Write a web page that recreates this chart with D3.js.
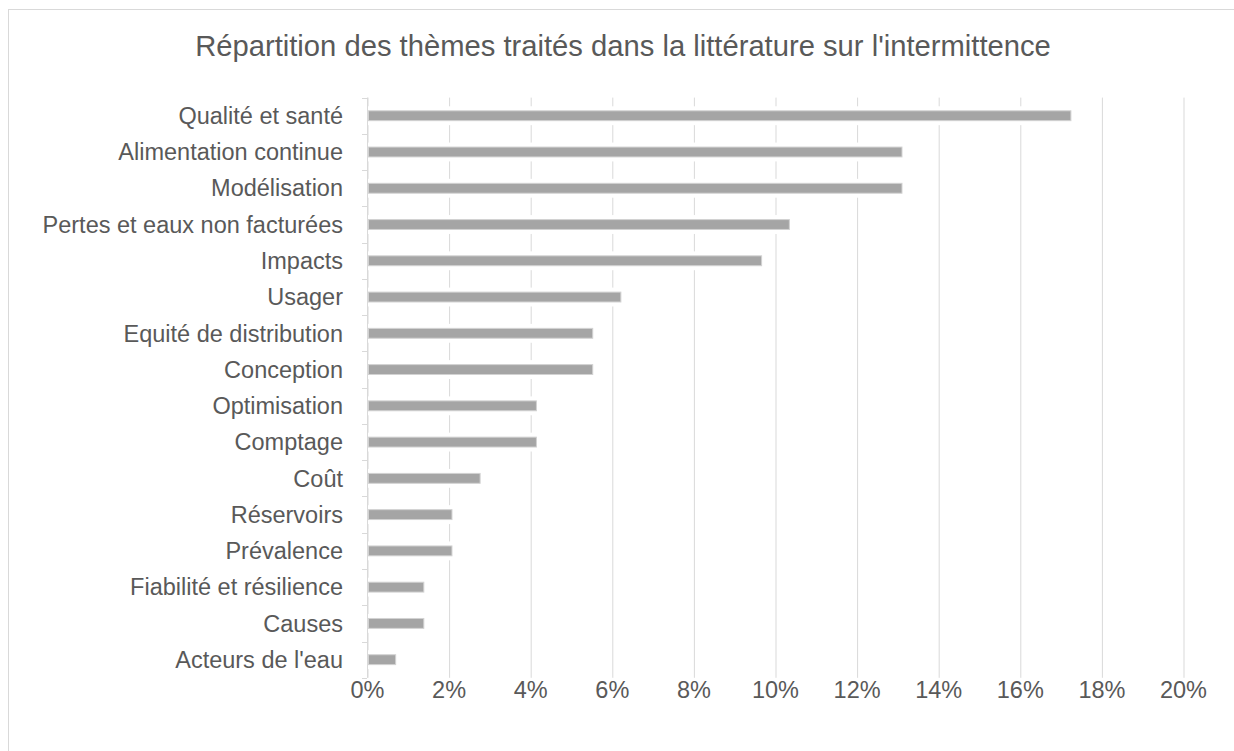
<!DOCTYPE html>
<html>
<head>
<meta charset="utf-8">
<script src="https://cdn.jsdelivr.net/npm/d3@7"></script>
<style>
  html, body { margin: 0; padding: 0; background: #ffffff; }
  svg { display: block; }
  text { font-family: "Liberation Sans", Arial, sans-serif; }
</style>
</head>
<body>
<svg id="chart" width="1234" height="751"></svg>
<script>
const title = "Répartition des thèmes traités dans la littérature sur l'intermittence";
const categories = [
  "Qualité et santé",
  "Alimentation continue",
  "Modélisation",
  "Pertes et eaux non facturées",
  "Impacts",
  "Usager",
  "Equité de distribution",
  "Conception",
  "Optimisation",
  "Comptage",
  "Coût",
  "Réservoirs",
  "Prévalence",
  "Fiabilité et résilience",
  "Causes",
  "Acteurs de l'eau"
];
const values = [0.1724, 0.1310, 0.1310, 0.1034, 0.0966, 0.0621, 0.0552, 0.0552,
                0.0414, 0.0414, 0.0276, 0.0207, 0.0207, 0.0138, 0.0138, 0.0069];
const xTicks = [0, 0.02, 0.04, 0.06, 0.08, 0.10, 0.12, 0.14, 0.16, 0.18, 0.20];

const W = 1234, H = 751;
const plot = { left: 367, right: 1183, top: 97.6, bottom: 677.8 };
const textColor = "#595959";
const gridColor = "#d9d9d9";

const svg = d3.select("#chart");

// outer chart border
svg.append("rect")
  .attr("x", 8.5).attr("y", 9.5)
  .attr("width", 1300).attr("height", 800)
  .attr("fill", "#ffffff")
  .attr("stroke", gridColor).attr("stroke-width", 1);

const x = d3.scaleLinear().domain([0, 0.2]).range([plot.left, plot.right]);
const y = d3.scaleBand().domain(categories)
  .range([plot.top, plot.bottom])
  .paddingInner(0.7).paddingOuter(0.35);

// vertical gridlines
const grid = svg.append("g")
  .attr("transform", `translate(0,${plot.top})`)
  .call(d3.axisBottom(x).tickValues(xTicks).tickSize(plot.bottom - plot.top).tickFormat(""));
grid.select(".domain").remove();
grid.selectAll("line").attr("stroke", gridColor).attr("stroke-width", 1)
  .attr("transform", "translate(0.5,0)");

// category axis line + ticks at band boundaries
const step = y.step();
const start = y(categories[0]) - step * y.paddingInner() / 2;
const boundaries = d3.range(categories.length + 1).map(i => start + i * step);
svg.append("line")
  .attr("x1", plot.left + 0.5).attr("x2", plot.left + 0.5)
  .attr("y1", plot.top).attr("y2", plot.bottom)
  .attr("stroke", gridColor).attr("stroke-width", 1);
svg.append("g").selectAll("line").data(boundaries).join("line")
  .attr("x1", plot.left - 5).attr("x2", plot.left)
  .attr("y1", d => Math.round(d) + 0.5).attr("y2", d => Math.round(d) + 0.5)
  .attr("stroke", gridColor).attr("stroke-width", 1);

// bars: white halo then grey bar
const bars = svg.append("g");
bars.selectAll("rect.halo").data(values).join("rect")
  .attr("class", "halo")
  .attr("x", x(0) + 1)
  .attr("y", (d, i) => y(categories[i]) - 4)
  .attr("width", d => x(d) - x(0))
  .attr("height", y.bandwidth() + 8)
  .attr("fill", "#ffffff");
bars.selectAll("rect.bar").data(values).join("rect")
  .attr("class", "bar")
  .attr("x", x(0) + 1.5)
  .attr("y", (d, i) => y(categories[i]) + 0.5)
  .attr("width", d => x(d) - x(0) - 1)
  .attr("height", y.bandwidth() - 1)
  .attr("fill", "#a5a5a5")
  .attr("stroke", "#d2d2d2").attr("stroke-width", 1);

// category labels
const yAxis = svg.append("g")
  .attr("transform", `translate(${plot.left},0)`)
  .call(d3.axisLeft(y).tickSize(0).tickPadding(24));
yAxis.select(".domain").remove();
yAxis.selectAll("text")
  .attr("fill", textColor)
  .attr("font-size", "23.5px")
  .attr("dy", "0.35em")
  .style("font-family", "'Liberation Sans', Arial, sans-serif");

// x tick labels
const xAxis = svg.append("g")
  .attr("transform", `translate(0,${plot.bottom})`)
  .call(d3.axisBottom(x).tickValues(xTicks).tickSize(0).tickPadding(4)
    .tickFormat(d3.format(".0%")));
xAxis.select(".domain").remove();
xAxis.selectAll("text")
  .attr("fill", textColor)
  .attr("font-size", "23.5px")
  .attr("dy", "0.71em")
  .style("font-family", "'Liberation Sans', Arial, sans-serif");

// title
svg.append("text")
  .attr("x", 623).attr("y", 56)
  .attr("text-anchor", "middle")
  .attr("fill", textColor)
  .attr("font-size", "29.2px")
  .text(title);
</script>
</body>
</html>
